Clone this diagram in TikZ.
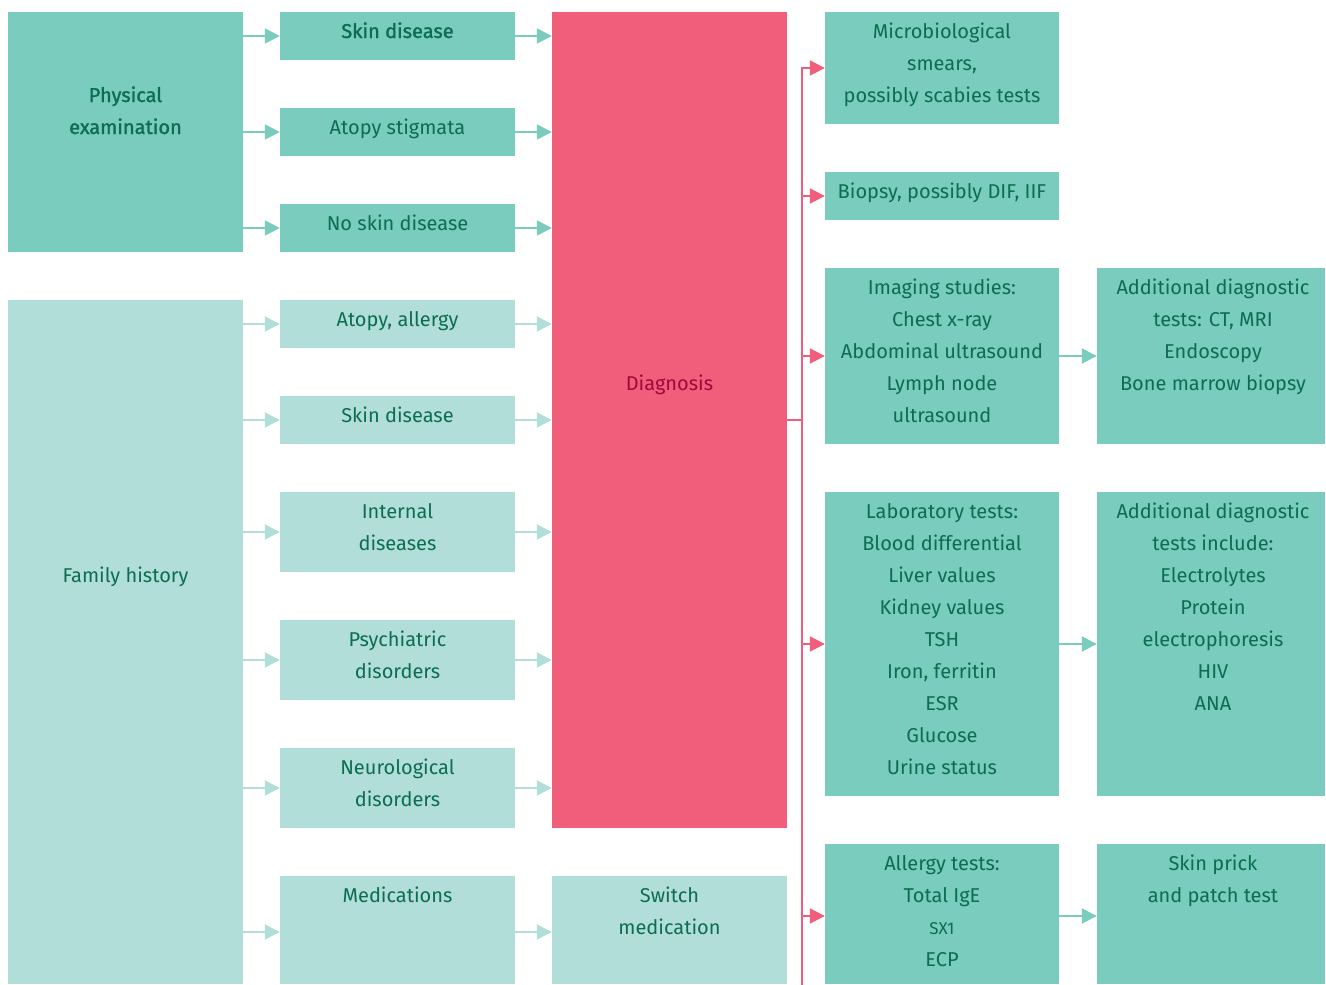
\documentclass[tikz,border=0pt]{standalone}
\usepackage{fontspec}
\setmainfont{Fira Sans}
\newfontfamily\semib[FakeBold=1.3]{Fira Sans}
\usetikzlibrary{arrows.meta}
\definecolor{tealA}{HTML}{7ACCBE}
\definecolor{tealB}{HTML}{B1DED8}
\definecolor{pinkA}{HTML}{F05E7B}
\definecolor{txtG}{HTML}{0B6E50}
\definecolor{txtR}{HTML}{A0083C}
\begin{document}
\begin{tikzpicture}[x=1pt,y=-1pt,
  box/.style={rectangle,inner sep=0pt,draw=none},
  bA/.style={box,fill=tealA},
  bB/.style={box,fill=tealB},
  bP/.style={box,fill=pinkA},
  txt/.style={anchor=base,align=center,inner sep=0pt,text=txtG,font=\fontsize{20}{32}\selectfont},
  arA/.style={draw=tealA,line width=2pt,-{Triangle[length=15pt,width=15pt]}},
  arB/.style={draw=tealB,line width=2pt,-{Triangle[length=15pt,width=15pt]}},
  arP/.style={draw=pinkA,line width=2pt,-{Triangle[length=15pt,width=15pt]}},
  lnP/.style={draw=pinkA,line width=2pt}]
\useasboundingbox (0,0) rectangle (1326,985);

% left column
\node[bA,minimum width=235,minimum height=240] (phys) at (125.5,132) {};
\node[bB,minimum width=235,minimum height=684] (fam) at (125.5,642) {};
\node[txt,font=\semib\fontsize{20}{32}\selectfont] (physT) at (125.5,134) {Physical\\examination};
\node[txt] (famT) at (125.5,582) {Family history};

% middle column
\node[bA,minimum width=235,minimum height=48] (sk1) at (397.5,36) {};
\node[bA,minimum width=235,minimum height=48] (ato) at (397.5,132) {};
\node[bA,minimum width=235,minimum height=48] (nsk) at (397.5,228) {};
\node[bB,minimum width=235,minimum height=48] (all) at (397.5,324) {};
\node[bB,minimum width=235,minimum height=48] (sk2) at (397.5,420) {};
\node[bB,minimum width=235,minimum height=80] (int) at (397.5,532) {};
\node[bB,minimum width=235,minimum height=80] (psy) at (397.5,660) {};
\node[bB,minimum width=235,minimum height=80] (neu) at (397.5,788) {};
\node[bB,minimum width=235,minimum height=108] (med) at (397.5,930) {};
\node[txt,font=\semib\fontsize{20}{32}\selectfont] (sk1T) at (397.5,38) {Skin disease};
\node[txt] (atoT) at (397.5,134) {Atopy stigmata};
\node[txt] (nskT) at (397.5,230) {No skin disease};
\node[txt] (allT) at (397.5,326) {Atopy, allergy};
\node[txt] (sk2T) at (397.5,422) {Skin disease};
\node[txt] (intT) at (397.5,550) {Internal\\diseases};
\node[txt] (psyT) at (397.5,678) {Psychiatric\\disorders};
\node[txt] (neuT) at (397.5,806) {Neurological\\disorders};
\node[txt] (medT) at (397.5,902) {Medications};

% diagnosis column
\node[bP,minimum width=235,minimum height=816] (dia) at (669.5,420) {};
\node[bB,minimum width=235,minimum height=108] (swi) at (669.5,930) {};
\node[txt,text=txtR] (diaT) at (669.5,390) {Diagnosis};
\node[txt] (swiT) at (669.5,934) {Switch\\medication};

% right column
\node[bA,minimum width=234,minimum height=112] (mic) at (942,68) {};
\node[bA,minimum width=234,minimum height=48] (bio) at (942,196) {};
\node[bA,minimum width=234,minimum height=176] (ima) at (942,356) {};
\node[bA,minimum width=234,minimum height=304] (lab) at (942,644) {};
\node[bA,minimum width=234,minimum height=140] (alg) at (942,914) {};
\node[txt] (micT) at (942,102) {Microbiological\\smears,\\possibly scabies tests};
\node[txt] (bioT) at (942,198) {Biopsy, possibly DIF, IIF};
\node[txt] (imaT) at (942,422) {Imaging studies:\\Chest x-ray\\Abdominal ultrasound\\Lymph node\\ultrasound};
\node[txt] (labT) at (942,774) {Laboratory tests:\\Blood differential\\Liver values\\Kidney values\\TSH\\Iron, ferritin\\ESR\\Glucose\\Urine status};
\node[txt] (algT) at (942,966) {Allergy tests:\\Total IgE\\{\fontsize{17}{17}\selectfont SX1}\\ECP};

% far right column
\node[bA,minimum width=228,minimum height=176] (ad1) at (1211,356) {};
\node[bA,minimum width=228,minimum height=304] (ad2) at (1211,644) {};
\node[bA,minimum width=228,minimum height=140] (spt) at (1211,914) {};
\node[txt] (ad1T) at (1213,390) {Additional diagnostic\\tests: CT, MRI\\Endoscopy\\Bone marrow biopsy};
\node[txt] (ad2T) at (1213,710) {Additional diagnostic\\tests include:\\Electrolytes\\Protein\\electrophoresis\\HIV\\ANA};
\node[txt] (sptT) at (1213,902) {Skin prick\\and patch test};

% left -> middle
\draw[arA] (phys.east |- sk1) -- (sk1.west);
\draw[arA] (phys.east |- ato) -- (ato.west);
\draw[arA] (phys.east |- nsk) -- (nsk.west);
\draw[arB] (fam.east |- all) -- (all.west);
\draw[arB] (fam.east |- sk2) -- (sk2.west);
\draw[arB] (fam.east |- int) -- (int.west);
\draw[arB] (fam.east |- psy) -- (psy.west);
\draw[arB] (fam.east |- neu) -- (neu.west);
\coordinate (medy) at (0,932);
\draw[arB] (fam.east |- medy) -- (med.west |- medy);

% middle -> diagnosis
\draw[arA] (sk1.east) -- (dia.west |- sk1);
\draw[arA] (ato.east) -- (dia.west |- ato);
\draw[arA] (nsk.east) -- (dia.west |- nsk);
\draw[arB] (all.east) -- (dia.west |- all);
\draw[arB] (sk2.east) -- (dia.west |- sk2);
\draw[arB] (int.east) -- (dia.west |- int);
\draw[arB] (psy.east) -- (dia.west |- psy);
\draw[arB] (neu.east) -- (dia.west |- neu);
\draw[arB] (med.east |- medy) -- (swi.west |- medy);

% diagnosis bus
\coordinate (busT) at (802,67);
\coordinate (busB) at (802,985);
\coordinate (busM) at (802,420);
\coordinate (algy) at (802,916);
\draw[lnP] (dia.east) -- (busM);
\draw[lnP] (busT) -- (busB);
\draw[arP] (busT |- mic) -- (mic.west);
\draw[arP] (busT |- bio) -- (bio.west);
\draw[arP] (busT |- ima) -- (ima.west);
\draw[arP] (busT |- lab) -- (lab.west);
\draw[arP] (algy) -- (alg.west |- algy);

% right -> far right
\draw[arA] (ima.east) -- (ad1.west);
\draw[arA] (lab.east) -- (ad2.west);
\draw[arA] (alg.east |- algy) -- (spt.west |- algy);
\end{tikzpicture}
\end{document}
